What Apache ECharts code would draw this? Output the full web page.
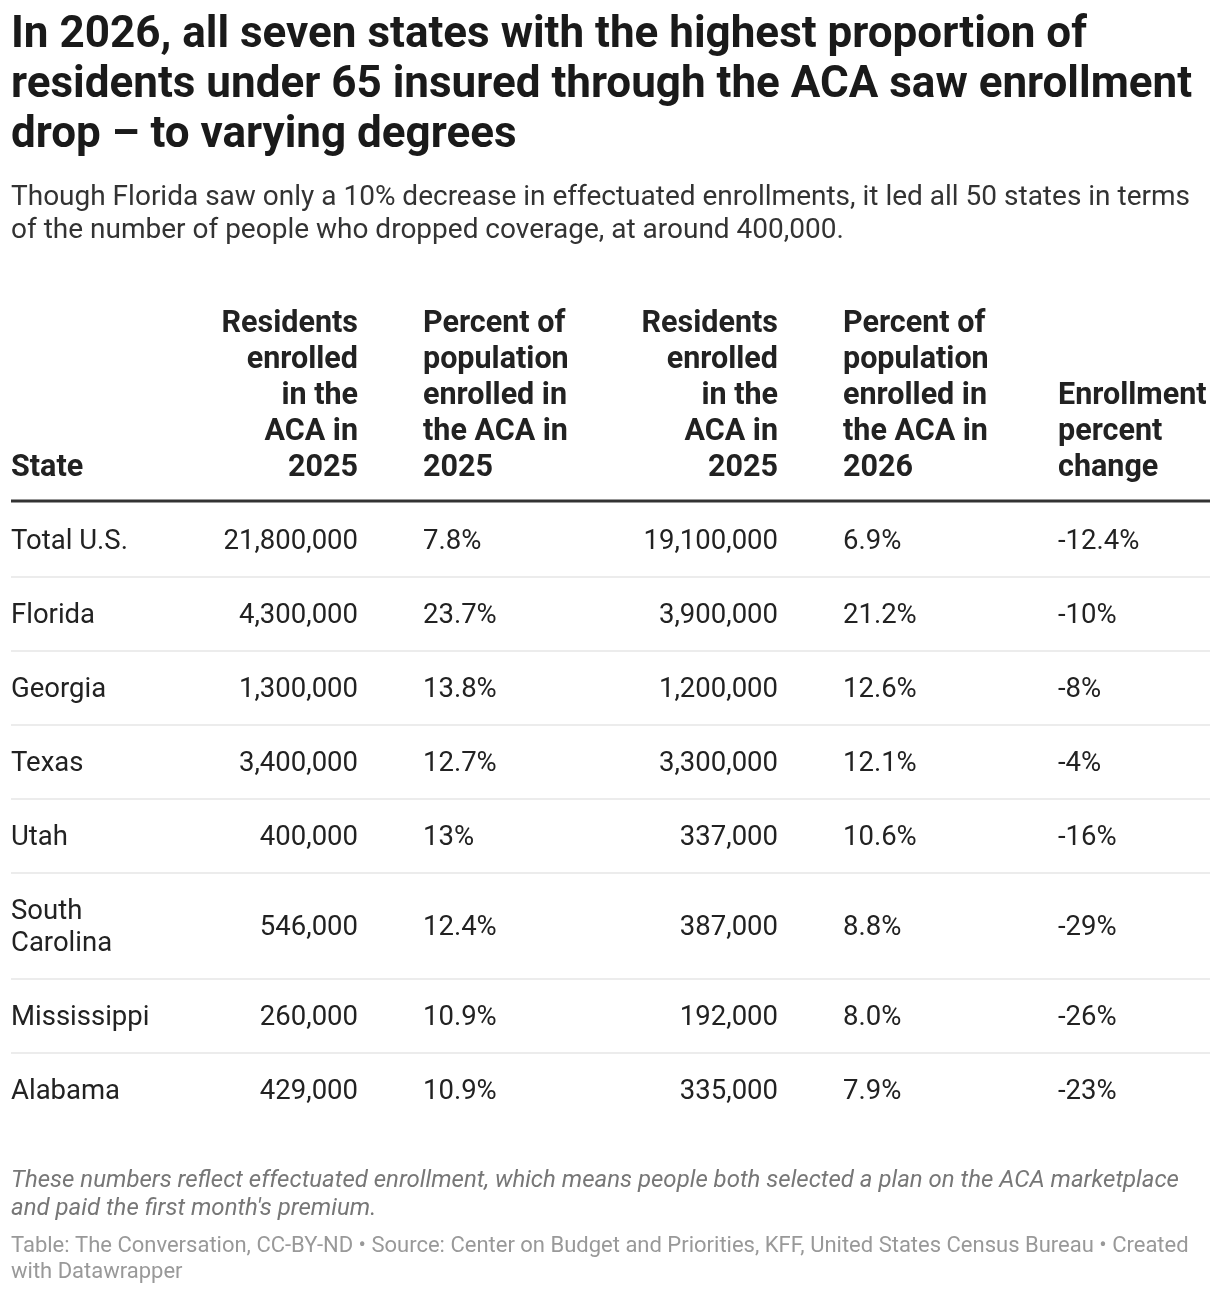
<!DOCTYPE html>
<html>
<head>
<meta charset="utf-8">
<script src="https://cdn.jsdelivr.net/npm/echarts@6/dist/echarts.min.js"></script>
<style>
html, body { margin: 0; padding: 0; background: #fff; }
#main { width: 1220px; height: 1294px; }
</style>
</head>
<body>
<div id="main"></div>
<script>
// table data
var states = ['Total U.S.', 'Florida', 'Georgia', 'Texas', 'Utah', 'South Carolina', 'Mississippi', 'Alabama'];
var enrolled2025 = [21800000, 4300000, 1300000, 3400000, 400000, 546000, 260000, 429000];
var pct2025 = ['7.8%', '23.7%', '13.8%', '12.7%', '13%', '12.4%', '10.9%', '10.9%'];
var enrolled2026 = [19100000, 3900000, 1200000, 3300000, 337000, 387000, 192000, 335000];
var pct2026 = ['6.9%', '21.2%', '12.6%', '12.1%', '10.6%', '8.8%', '8.0%', '7.9%'];
var pctChange = ['-12.4%', '-10%', '-8%', '-4%', '-16%', '-29%', '-26%', '-23%'];
var headers = [
    'State',
    'Residents\nenrolled\nin the\nACA in\n2025',
    'Percent of\npopulation\nenrolled in\nthe ACA in\n2025',
    'Residents\nenrolled\nin the\nACA in\n2025',
    'Percent of\npopulation\nenrolled in\nthe ACA in\n2026',
    'Enrollment\npercent\nchange'
];

var titleText = 'In 2026, all seven states with the highest proportion of\nresidents under 65 insured through the ACA saw enrollment\ndrop \u2013 to varying degrees';
var subText = 'Though Florida saw only a 10% decrease in effectuated enrollments, it led all 50 states in terms\nof the number of people who dropped coverage, at around 400,000.';
var noteText = 'These numbers reflect effectuated enrollment, which means people both selected a plan on the ACA marketplace\nand paid the first month\'s premium.';
var sourceText = 'Table: The Conversation, CC-BY-ND \u2022 Source: Center on Budget and Priorities, KFF, United States Census Bureau \u2022 Created\nwith Datawrapper';

var FONT = 'Roboto, "Noto Sans", sans-serif';
var bodySize = 27.5;

// column anchors
var cols = [
    {x: 11, align: 'left'},
    {x: 358, align: 'right'},
    {x: 423, align: 'left'},
    {x: 778, align: 'right'},
    {x: 843, align: 'left'},
    {x: 1058, align: 'left'}
];

function fmt(n) {
    return String(n).replace(/\B(?=(\d{3})+(?!\d))/g, ',');
}

var ctx = document.createElement('canvas').getContext('2d');
ctx.font = bodySize + 'px ' + FONT;
function wrap(s, maxW) {
    var words = s.split(' '), lines = [], cur = '';
    words.forEach(function (w) {
        var t = cur ? cur + ' ' + w : w;
        if (cur && ctx.measureText(t).width > maxW) {
            lines.push(cur);
            cur = w;
        } else {
            cur = t;
        }
    });
    lines.push(cur);
    return lines;
}

var g = [];
function txt(text, x, y, o) {
    g.push({
        type: 'text', x: x, y: y, silent: true,
        style: {
            text: text,
            fill: o.fill || '#222',
            font: (o.style || 'normal') + ' ' + (o.weight || 'normal') + ' ' + o.size + 'px ' + FONT,
            align: o.align || 'left',
            verticalAlign: o.va || 'top',
            lineHeight: o.lh
        }
    });
}

txt(titleText, 11, 11, {size: 44, weight: 'bold', lh: 50, fill: '#1a1a1a'});
txt(subText, 11, 181, {size: 28, lh: 33, fill: '#333'});

// headers, bottom aligned
headers.forEach(function (h, i) {
    txt(h, cols[i].x, 486, {size: 30.5, weight: 'bold', lh: 36, align: cols[i].align, va: 'bottom', fill: '#222'});
});

g.push({type: 'line', silent: true, shape: {x1: 11, y1: 501, x2: 1210, y2: 501}, style: {stroke: '#333', lineWidth: 3}});

var y = 503;
states.forEach(function (s, r) {
    var lines = wrap(s, 160);
    var h = 74 + (lines.length - 1) * 32;
    var cy = y + h / 2 + 2.5;
    var cells = [lines.join('\n'), fmt(enrolled2025[r]), pct2025[r], fmt(enrolled2026[r]), pct2026[r], pctChange[r]];
    cells.forEach(function (c, i) {
        txt(c, cols[i].x, cy, {size: bodySize, lh: 32, align: cols[i].align, va: 'middle', fill: '#222'});
    });
    y += h;
    if (r < states.length - 1) {
        g.push({type: 'line', silent: true, shape: {x1: 11, y1: y, x2: 1210, y2: y}, style: {stroke: '#e6e6e6', lineWidth: 1.5}});
    }
});

txt(noteText, 11, 1167, {size: 24, style: 'italic', lh: 28, fill: '#777'});
txt(sourceText, 11, 1233, {size: 22, lh: 26, fill: '#999'});

var myChart = echarts.init(document.getElementById('main'));
myChart.setOption({
    backgroundColor: '#fff',
    animation: false,
    graphic: g
});
</script>
</body>
</html>
